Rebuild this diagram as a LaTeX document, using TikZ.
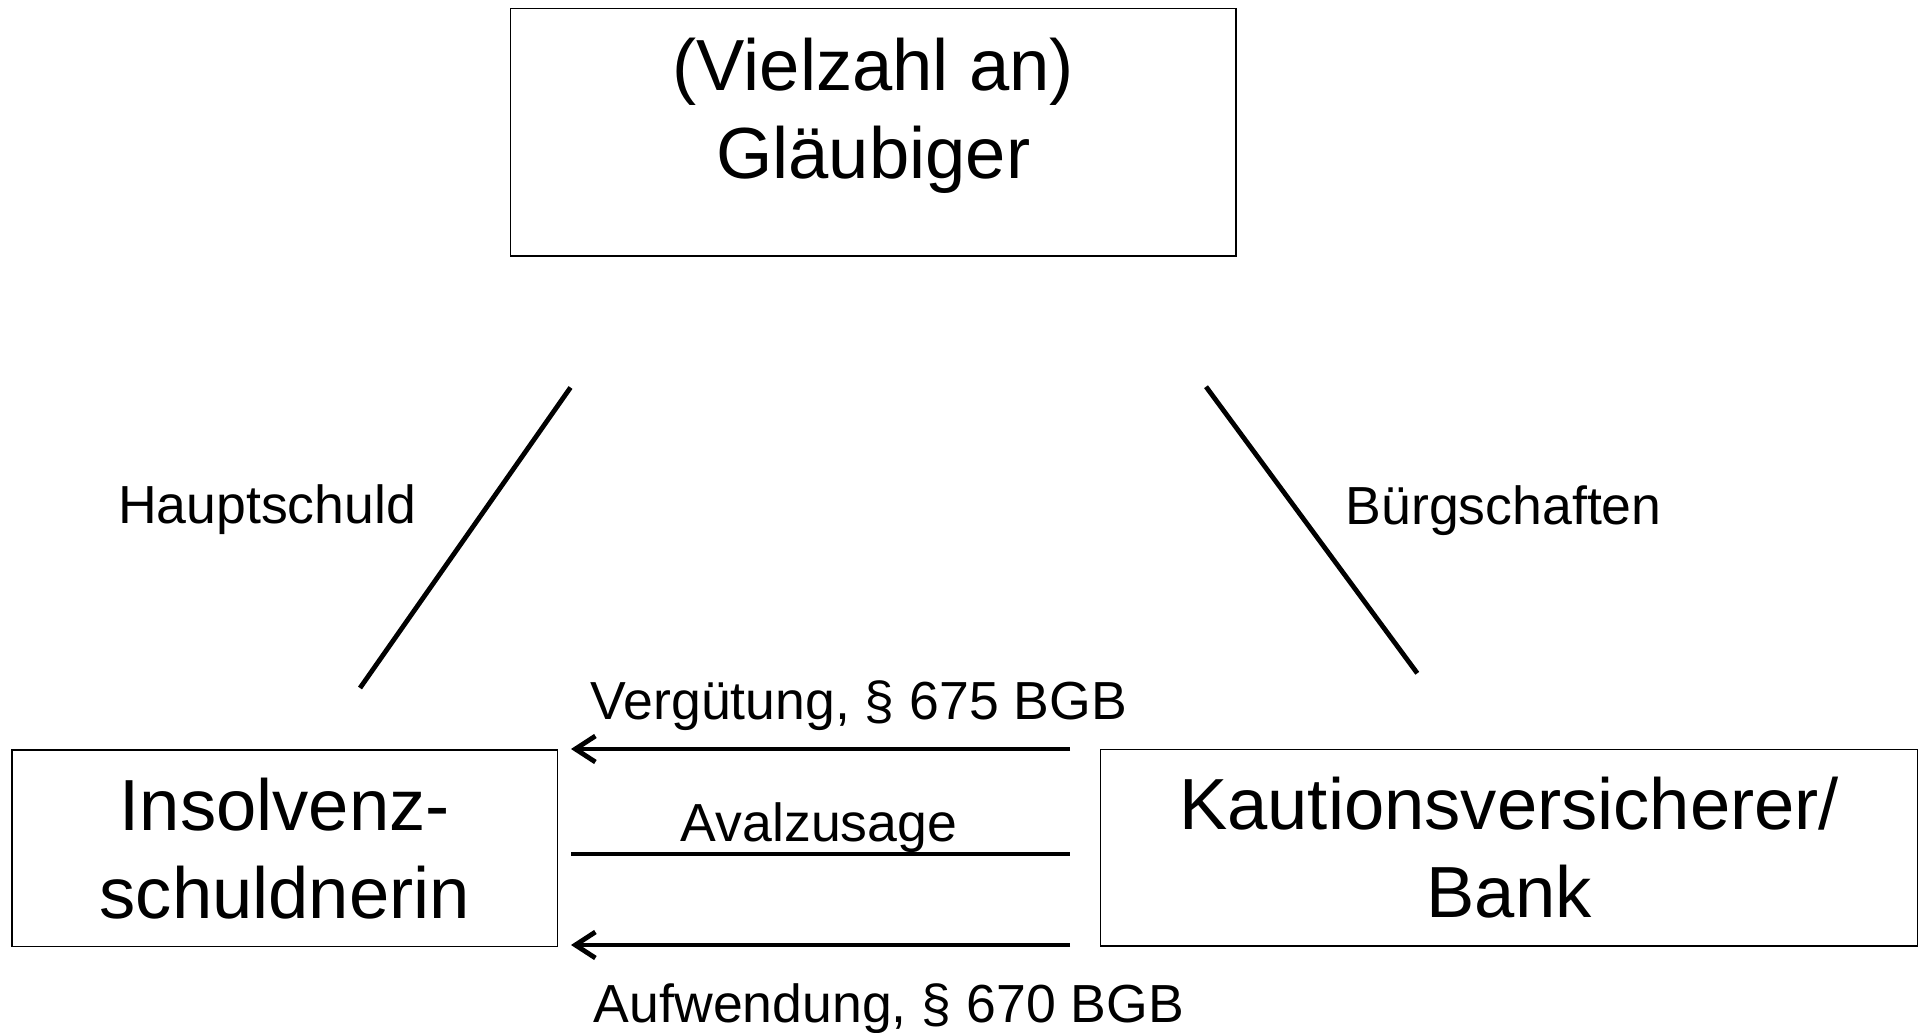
\documentclass[tikz,border=0pt]{standalone}
\usepackage{fontspec}
\setmainfont{Liberation Sans}
\usetikzlibrary{arrows.meta}

\tikzset{
  box/.style={draw, line width=0.8pt, inner sep=0pt, align=center,
    font=\fontsize{36.2}{44}\selectfont},
  rel/.style={inner sep=0pt, anchor=base, font=\fontsize{26.8}{32}\selectfont},
  link/.style={line width=2.4pt},
  flow/.style={line width=2.4pt, -{Straight Barb[length=10pt,width=13pt]}},
}

\begin{document}
\begin{tikzpicture}[x=0.5pt, y=-0.5pt]
      \useasboundingbox (0,0) rectangle (1919,1033);
      % the three parties
      \node[box, minimum width=362.75pt, minimum height=123.85pt] (glaeubiger) at (873.3,132.2) {};
      \node[box, draw=none] (glaeubigertext) at (873.3,115.7) {(Vielzahl an)\\Gläubiger};
      \node[box, minimum width=272.75pt, minimum height=98.25pt] (schuldnerin) at (284.8,848.3) {Insolvenz-\\schuldnerin};
      \node[box, minimum width=408.5pt, minimum height=98.35pt] (versicherer) at (1509.1,847.7) {Kautionsversicherer/\\Bank};
      % relations
      \coordinate (hsoben) at (570.5,387.5);
      \coordinate (hsunten) at (360,688);
      \coordinate (bgoben) at (1206,386.7);
      \coordinate (bgunten) at (1417.3,673.3);
      \draw[link] (hsoben) -- (hsunten);
      \draw[link] (bgoben) -- (bgunten);
      \node[rel] (hauptschuld) at (267,523) {Hauptschuld};
      \node[rel] (buergschaften) at (1503.7,524) {Bürgschaften};
      % payments between debtor and surety
      \coordinate (vgrechts) at (1070,749);
      \coordinate (vglinks) at (571,749);
      \coordinate (avrechts) at (1070,854);
      \coordinate (avlinks) at (571,854);
      \coordinate (afrechts) at (1070,945);
      \coordinate (aflinks) at (571,945);
      \draw[flow] (vgrechts) -- (vglinks);
      \draw[link] (avlinks) -- (avrechts);
      \draw[flow] (afrechts) -- (aflinks);
      \node[rel] (verguetung) at (859,719.3) {Vergütung, § 675 BGB};
      \node[rel] (avalzusage) at (819,841.7) {Avalzusage};
      \node[rel] (aufwendung) at (889,1022.7) {Aufwendung, § 670 BGB};
    \end{tikzpicture}
\end{document}
